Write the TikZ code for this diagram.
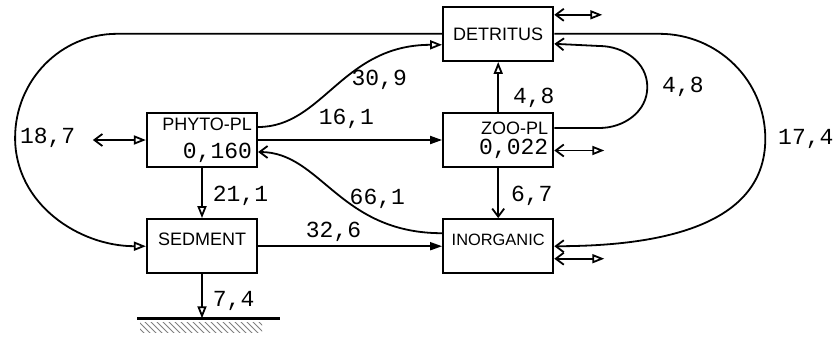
\documentclass[tikz,border=0pt]{standalone}
\usepackage{fontspec}
\usepackage{tikz}
\usetikzlibrary{arrows.meta,positioning,calc,patterns}
\newfontfamily\boxfont{Liberation Sans}
\newfontfamily\flowfont{Liberation Mono}
\newcommand{\valfont}{\flowfont\fontsize{11.5}{13}\selectfont}

\begin{document}
\begin{tikzpicture}[
  x=0.5pt, y=-0.5pt,
  node distance=25pt and 92pt,
  stock/.style={rectangle, draw, line width=1.1pt, minimum width=55pt, minimum height=27pt, inner sep=1pt, align=center, font=\boxfont\fontsize{9}{10}\selectfont},
  pool/.style={stock, text width=50pt, align=right},
  low/.style={text depth=6.5pt},
  flow/.style={line width=0.9pt},
  tri/.style={flow, -{Triangle[open, length=6pt, width=4.5pt]}},
  dark/.style={flow, -{Triangle[length=6pt, width=4pt]}},
  barb/.style={flow, -{Straight Barb[length=4pt, width=6pt]}},
  inout/.style={flow, {Straight Barb[length=4pt, width=6pt]}-{Triangle[open, length=6pt, width=4.5pt]}},
  outin/.style={flow, {Triangle[open, length=6pt, width=4.5pt]}-{Straight Barb[length=4pt, width=6pt]}},
  val/.style={font=\valfont, inner sep=1pt}
]
\useasboundingbox (0,0) rectangle (839,339);

\node[pool] (phyto) at (202,140) {PHYTO-PL\\[4pt]{\valfont 0,160}};
\node[stock, low, below=of phyto] (sed) {SEDMENT};
\node[pool, right=of phyto] (zoo) {ZOO-PL\\[0pt]{\valfont 0,022}};
\node[stock, above=of zoo] (detritus) {DETRITUS};
\node[stock, low, below=of zoo, font=\boxfont\fontsize{8.2}{10}\selectfont] (inorg) {INORGANIC};
\coordinate[below=22pt of sed] (bottom);

% flows between the pools
\draw[dark] (zoo.west -| phyto.east) -- node[val, pos=0.48, above=4.5pt] {16,1} (zoo.west);
\draw[tri] ([yshift=6.5pt]phyto.east) .. controls +(65,0) and +(-100,0) .. ([yshift=-5.5pt]detritus.west) node[val, pos=0.55, right=2pt] {30,9};
\draw[barb] ([yshift=6.5pt]inorg.west) .. controls +(-103,0) and +(63,0) .. ([yshift=-6pt]phyto.east) node[val, pos=0.45, right=2pt] {66,1};
\draw[tri] (phyto) -- (sed) node[val, pos=0.55, right=4pt] {21,1};
\draw[tri] (sed) -- (bottom) node[val, pos=0.6, right=4pt] {7,4};
\draw[tri] (zoo) -- (detritus) node[val, pos=0.28, right=6pt] {4,8};
\draw[barb] (zoo) -- (inorg) node[val, pos=0.56, right=5pt] {6,7};
\draw[dark] (sed.east) -- (sed.east -| inorg.west) node[val, pos=0.41, above=1pt] {32,6};

% loops round the outside
\draw[tri] (detritus.west) -- ++(-325,0) to[out=180,in=90] ++(-102,104) node[val, right=1pt] {18,7} to[out=-90,in=180] (sed.west);
\draw[barb] (detritus.east) -- ++(105,0) to[out=0,in=90] ++(106,105) node[val, right=5pt] {17,4} to[out=-90,in=0] (inorg.east);
\draw[barb] ([yshift=6pt]zoo.east) -- ++(45,0) to[out=0,in=-90] ++(48,-41) node[val, right=6pt] {4,8} to[out=90,in=0] ++(-48,-41) -- ([yshift=-5pt]detritus.east);

% exchange with outside
\draw[inout] ([yshift=9.5pt]detritus.east) -- ++(48,0);
\draw[inout] ([yshift=-5.25pt]zoo.east) -- ++(50,0);
\draw[inout] ([yshift=-6.25pt]inorg.east) -- ++(50,0);
\draw[outin] (phyto.west) -- ++(-53,0);

% bottom
\draw[line width=1.2pt] ([xshift=-32.5pt]bottom) -- ([xshift=39pt]bottom);
\fill[pattern=north west lines, pattern color=black!50] ([xshift=-31pt,yshift=-2pt]bottom) rectangle ([xshift=30pt,yshift=-7pt]bottom);
\end{tikzpicture}
\end{document}
